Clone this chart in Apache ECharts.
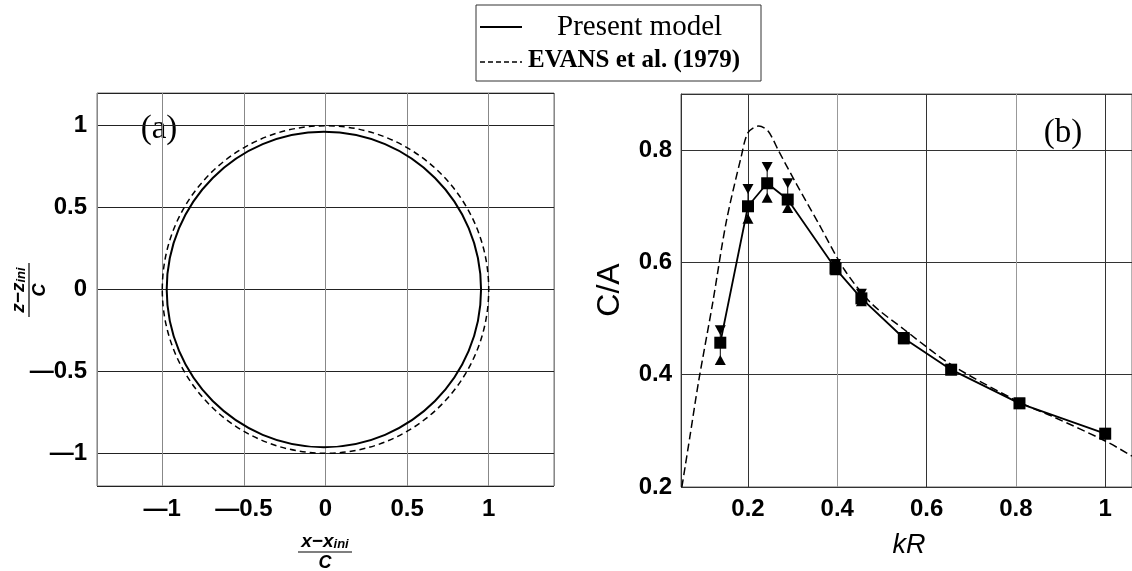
<!DOCTYPE html>
<html>
<head>
<meta charset="utf-8">
<script src="https://cdn.jsdelivr.net/npm/echarts@6/dist/echarts.min.js"></script>
<style>
  html, body { margin: 0; padding: 0; background: #fff; }
  #main { width: 1132px; height: 571px; }
</style>
</head>
<body>
<div id="main"></div>
<script>
// (a) bubble outlines: [cx, cy, radius]
const circleModel = [[-0.01, 0, 0.963]];
const circleEvans = [[0, 0, 1.0]];

// (b) C/A against kR
const kR      = [0.138, 0.200, 0.243, 0.289, 0.396, 0.454, 0.549, 0.655, 0.808, 1.000];
const caModel = [0.457, 0.700, 0.741, 0.712, 0.589, 0.536, 0.465, 0.409, 0.349, 0.295];
const caUpper = [0.479, 0.731, 0.770, 0.741, 0.597, 0.544, 0.467, 0.410, 0.350, 0.296];
const caLower = [0.426, 0.678, 0.715, 0.697, 0.586, 0.531, 0.463, 0.408, 0.348, 0.294];

const evansKR = [0.052, 0.070, 0.089, 0.121, 0.151, 0.185, 0.200, 0.224, 0.245, 0.269,
                 0.309, 0.357, 0.416, 0.475, 0.549, 0.655, 0.808, 0.881, 1.000, 1.060];
const evansCA = [0.200, 0.290, 0.386, 0.528, 0.671, 0.789, 0.831, 0.843, 0.834, 0.798,
                 0.739, 0.671, 0.587, 0.528, 0.481, 0.418, 0.351, 0.326, 0.282, 0.255];

const pair = (xs, ys) => xs.map((x, i) => [x, ys[i]]);

const tickFont = { fontFamily: 'Liberation Sans', fontWeight: 'bold', fontSize: 24, color: '#000' };
const dashFmt = v => String(v).replace('-', '\u2014');

// 圆形轮廓
function renderCircle(dash, width) {
  return function (params, api) {
    const c = api.coord([api.value(0), api.value(1)]);
    const s = api.size([api.value(2), api.value(2)]);
    return {
      type: 'ellipse',
      shape: { cx: c[0], cy: c[1], rx: s[0], ry: s[1] },
      style: { fill: 'none', stroke: '#000', lineWidth: width, lineDash: dash }
    };
  };
}

// 误差线
function renderBar(params, api) {
  const lo = api.coord([api.value(0), api.value(1)]);
  const hi = api.coord([api.value(0), api.value(2)]);
  return {
    type: 'line',
    shape: { x1: lo[0], y1: lo[1], x2: hi[0], y2: hi[1] },
    style: { stroke: '#000', lineWidth: 1 }
  };
}

function fraction(x, y, rotation, num, sub) {
  const it = { fontFamily: 'Liberation Sans', fontWeight: 'bold', fontStyle: 'italic', fill: '#000' };
  return {
    type: 'group', x: x, y: y, rotation: rotation,
    children: [
      {
        type: 'text', x: 0, y: -1,
        style: {
          text: '{n|' + num + '}{s|' + sub + '}', align: 'center', verticalAlign: 'bottom',
          rich: {
            n: Object.assign({ fontSize: 19, lineHeight: 18 }, it),
            s: Object.assign({ fontSize: 13, lineHeight: 18, verticalAlign: 'bottom', padding: [6, 0, 0, 0] }, it)
          }
        }
      },
      { type: 'line', shape: { x1: -27, y1: 0, x2: 27, y2: 0 }, style: { stroke: '#000', lineWidth: 1.2 } },
      { type: 'text', x: 0, y: 2, style: Object.assign({ text: 'C', fontSize: 18, align: 'center', verticalAlign: 'top' }, it) }
    ]
  };
}

const chart = echarts.init(document.getElementById('main'));

const options = {
  animation: false,
  grid: [
    { left: 97, top: 93, width: 457, height: 393, show: true, borderColor: '#777', borderWidth: 1 },
    { left: 681, top: 94, right: -8, height: 393, show: true, borderColor: '#666', borderWidth: 1 }
  ],
  xAxis: [
    {
      gridIndex: 0, type: 'value', min: -1.4, max: 1.4, minInterval: 0.5, maxInterval: 0.5,
      axisLine: { show: false }, axisTick: { show: false },
      axisLabel: Object.assign({ margin: 11, showMinLabel: false, showMaxLabel: false, formatter: dashFmt }, tickFont),
      splitLine: { show: true, lineStyle: { color: '#888', width: 1 } }
    },
    {
      gridIndex: 1, type: 'value', position: 'bottom', min: 0.05, max: 1.06, minInterval: 0.2, maxInterval: 0.2,
      axisLine: { show: false }, axisTick: { show: false },
      axisLabel: Object.assign({ margin: 10, showMinLabel: false, showMaxLabel: false }, tickFont),
      splitLine: { show: true, showMinLine: false, showMaxLine: false, lineStyle: { color: '#333', width: 1 } }
    },
    // lighter grid lines at 0.4 and 0.8, laid over the dark ones
    {
      gridIndex: 1, type: 'value', position: 'top', min: 0.05, max: 1.06, minInterval: 0.4, maxInterval: 0.4,
      axisLine: { show: false }, axisTick: { show: false }, axisLabel: { show: false },
      splitLine: { show: true, showMinLine: false, showMaxLine: false, lineStyle: { color: '#999', width: 1 } }
    }
  ],
  yAxis: [
    {
      gridIndex: 0, type: 'value', min: -1.2, max: 1.2, minInterval: 0.5, maxInterval: 0.5,
      axisLine: { show: false }, axisTick: { show: false },
      axisLabel: Object.assign({ margin: 10, showMinLabel: false, showMaxLabel: false, formatter: dashFmt }, tickFont),
      splitLine: { show: true, lineStyle: { color: '#222', width: 1 } }
    },
    {
      gridIndex: 1, type: 'value', min: 0.2, max: 0.9, interval: 0.2,
      axisLine: { show: true, lineStyle: { color: '#333', width: 1 } }, axisTick: { show: false },
      axisLabel: Object.assign({ margin: 9, showMaxLabel: false }, tickFont),
      splitLine: { show: true, lineStyle: { color: '#333', width: 1 } }
    }
  ],
  series: [
    {
      type: 'custom', xAxisIndex: 0, yAxisIndex: 0, data: circleEvans,
      renderItem: renderCircle([6, 4], 1.5), z: 3
    },
    {
      type: 'custom', xAxisIndex: 0, yAxisIndex: 0, data: circleModel,
      renderItem: renderCircle(null, 2), z: 3
    },
    {
      name: 'EVANS et al. (1979)', type: 'line', xAxisIndex: 1, yAxisIndex: 1,
      data: pair(evansKR, evansCA), smooth: 0.3, showSymbol: false,
      lineStyle: { color: '#000', width: 1.5, type: [8, 4] }, z: 3
    },
    {
      type: 'custom', xAxisIndex: 1, yAxisIndex: 1,
      data: kR.map((x, i) => [x, caLower[i], caUpper[i]]),
      renderItem: renderBar, z: 4
    },
    {
      name: 'upper', type: 'line', xAxisIndex: 1, yAxisIndex: 1, data: pair(kR, caUpper),
      lineStyle: { width: 0 }, symbol: 'triangle', symbolRotate: 180, symbolSize: [11, 10],
      itemStyle: { color: '#000' }, z: 5
    },
    {
      name: 'lower', type: 'line', xAxisIndex: 1, yAxisIndex: 1, data: pair(kR, caLower),
      lineStyle: { width: 0 }, symbol: 'triangle', symbolSize: [11, 10],
      itemStyle: { color: '#000' }, z: 5
    },
    {
      name: 'Present model', type: 'line', xAxisIndex: 1, yAxisIndex: 1, data: pair(kR, caModel),
      lineStyle: { color: '#000', width: 1.8 }, symbol: 'rect', symbolSize: 12,
      itemStyle: { color: '#000' }, z: 6
    }
  ],
  graphic: [
    // legend
    { type: 'rect', shape: { x: 476, y: 5, width: 285, height: 76 }, style: { fill: '#fff', stroke: '#333', lineWidth: 1 } },
    { type: 'line', shape: { x1: 480, y1: 27, x2: 522, y2: 27 }, style: { stroke: '#000', lineWidth: 2 } },
    { type: 'line', shape: { x1: 480, y1: 62, x2: 522, y2: 62 }, style: { stroke: '#000', lineWidth: 1.5, lineDash: [5, 3] } },
    { type: 'text', x: 557, y: 27, style: { text: 'Present model', fontFamily: 'Liberation Serif', fontSize: 29, fill: '#000', verticalAlign: 'middle' } },
    { type: 'text', x: 528, y: 61, style: { text: 'EVANS et al. (1979)', fontFamily: 'Liberation Serif', fontWeight: 'bold', fontSize: 25, fill: '#000', verticalAlign: 'middle' } },
    // panel tags
    { type: 'rect', shape: { x: 137, y: 108, width: 44, height: 40 }, style: { fill: '#fff' } },
    { type: 'text', x: 159, y: 129, style: { text: '(a)', fontFamily: 'Liberation Serif', fontSize: 33, fill: '#000', align: 'center', verticalAlign: 'middle' } },
    { type: 'rect', shape: { x: 1038, y: 113, width: 50, height: 40 }, style: { fill: '#fff' } },
    { type: 'text', x: 1063, y: 133, style: { text: '(b)', fontFamily: 'Liberation Serif', fontSize: 33, fill: '#000', align: 'center', verticalAlign: 'middle' } },
    // axis titles
    fraction(325, 552, 0, 'x\u2212x', 'ini'),
    fraction(29, 290, Math.PI / 2, 'z\u2212z', 'ini'),
    { type: 'text', x: 909, y: 545, style: { text: 'kR', fontFamily: 'Liberation Sans', fontStyle: 'italic', fontSize: 27, fill: '#000', align: 'center', verticalAlign: 'middle' } },
    { type: 'text', x: 610, y: 290, rotation: Math.PI / 2, style: { text: 'C/A', fontFamily: 'Liberation Sans', fontSize: 32, fill: '#000', align: 'center', verticalAlign: 'middle' } }
  ]
};

chart.setOption(options);
window.addEventListener('resize', function () { chart.resize(); });
</script>
</body>
</html>
